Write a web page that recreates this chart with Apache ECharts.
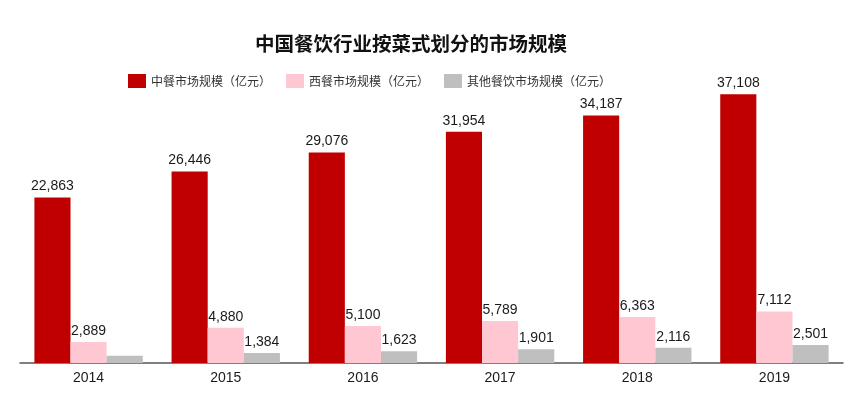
<!DOCTYPE html>
<html><head><meta charset="utf-8">
<script src="https://cdn.jsdelivr.net/npm/echarts@6/dist/echarts.min.js"></script>
<style>html,body{margin:0;padding:0;background:#fff}#c{width:867px;height:394px}</style>
</head><body><div id="c"></div>
<script>
var categories = ['2014','2015','2016','2017','2018','2019'];
var chineseFood = [22863, 26446, 29076, 31954, 34187, 37108];
var westernFood = [2889, 4880, 5100, 5789, 6363, 7112];
var otherFood = [1000, 1384, 1623, 1901, 2116, 2501];
var showOtherLabel = [false, true, true, true, true, true];
var seriesNames = ['中餐市场规模（亿元）','西餐市场规模（亿元）','其他餐饮市场规模（亿元）'];

var chart = echarts.init(document.getElementById('c'));
var labelFmt = function(p){ return p.value.toLocaleString('en-US'); };
var lbl = {show:true, position:'top', distance:4, color:'#1a1a1a', fontSize:14, fontFamily:'Liberation Sans, Arial, sans-serif', formatter:labelFmt};
chart.setOption({
  animation:false,
  title:{text:'中国餐饮行业按菜式划分的市场规模', left:250, top:29,
    textStyle:{fontSize:19.5, fontWeight:'bold', color:'#111', fontFamily:'Noto Sans CJK SC'}},
  legend:{left:123, top:69, icon:'rect', itemWidth:18, itemHeight:14, itemGap:15,
    textStyle:{fontSize:12, color:'#333', fontFamily:'Noto Sans CJK SC'}, data:seriesNames},
  grid:{left:20, right:24, top:73.4, bottom:31},
  xAxis:{type:'category', data:categories,
    axisLine:{lineStyle:{color:'#555', width:1.5}}, axisTick:{show:false},
    axisLabel:{fontSize:14, color:'#1a1a1a', margin:8, fontFamily:'Liberation Sans, Arial, sans-serif'}},
  yAxis:{type:'value', min:0, max:40000, show:false, splitLine:{show:false}},
  series:[
    {name:seriesNames[0], type:'bar', data:chineseFood, barGap:'0%', barCategoryGap:'21%',
      itemStyle:{color:'#C00000'}, label:lbl},
    {name:seriesNames[1], type:'bar', data:westernFood,
      itemStyle:{color:'#FFC7D2'}, label:lbl},
    {name:seriesNames[2], type:'bar',
      data:otherFood.map(function(v,i){return {value:v, label:{show:showOtherLabel[i]}};}),
      itemStyle:{color:'#BFBFBF'}, label:lbl}
  ]
});
</script></body></html>
